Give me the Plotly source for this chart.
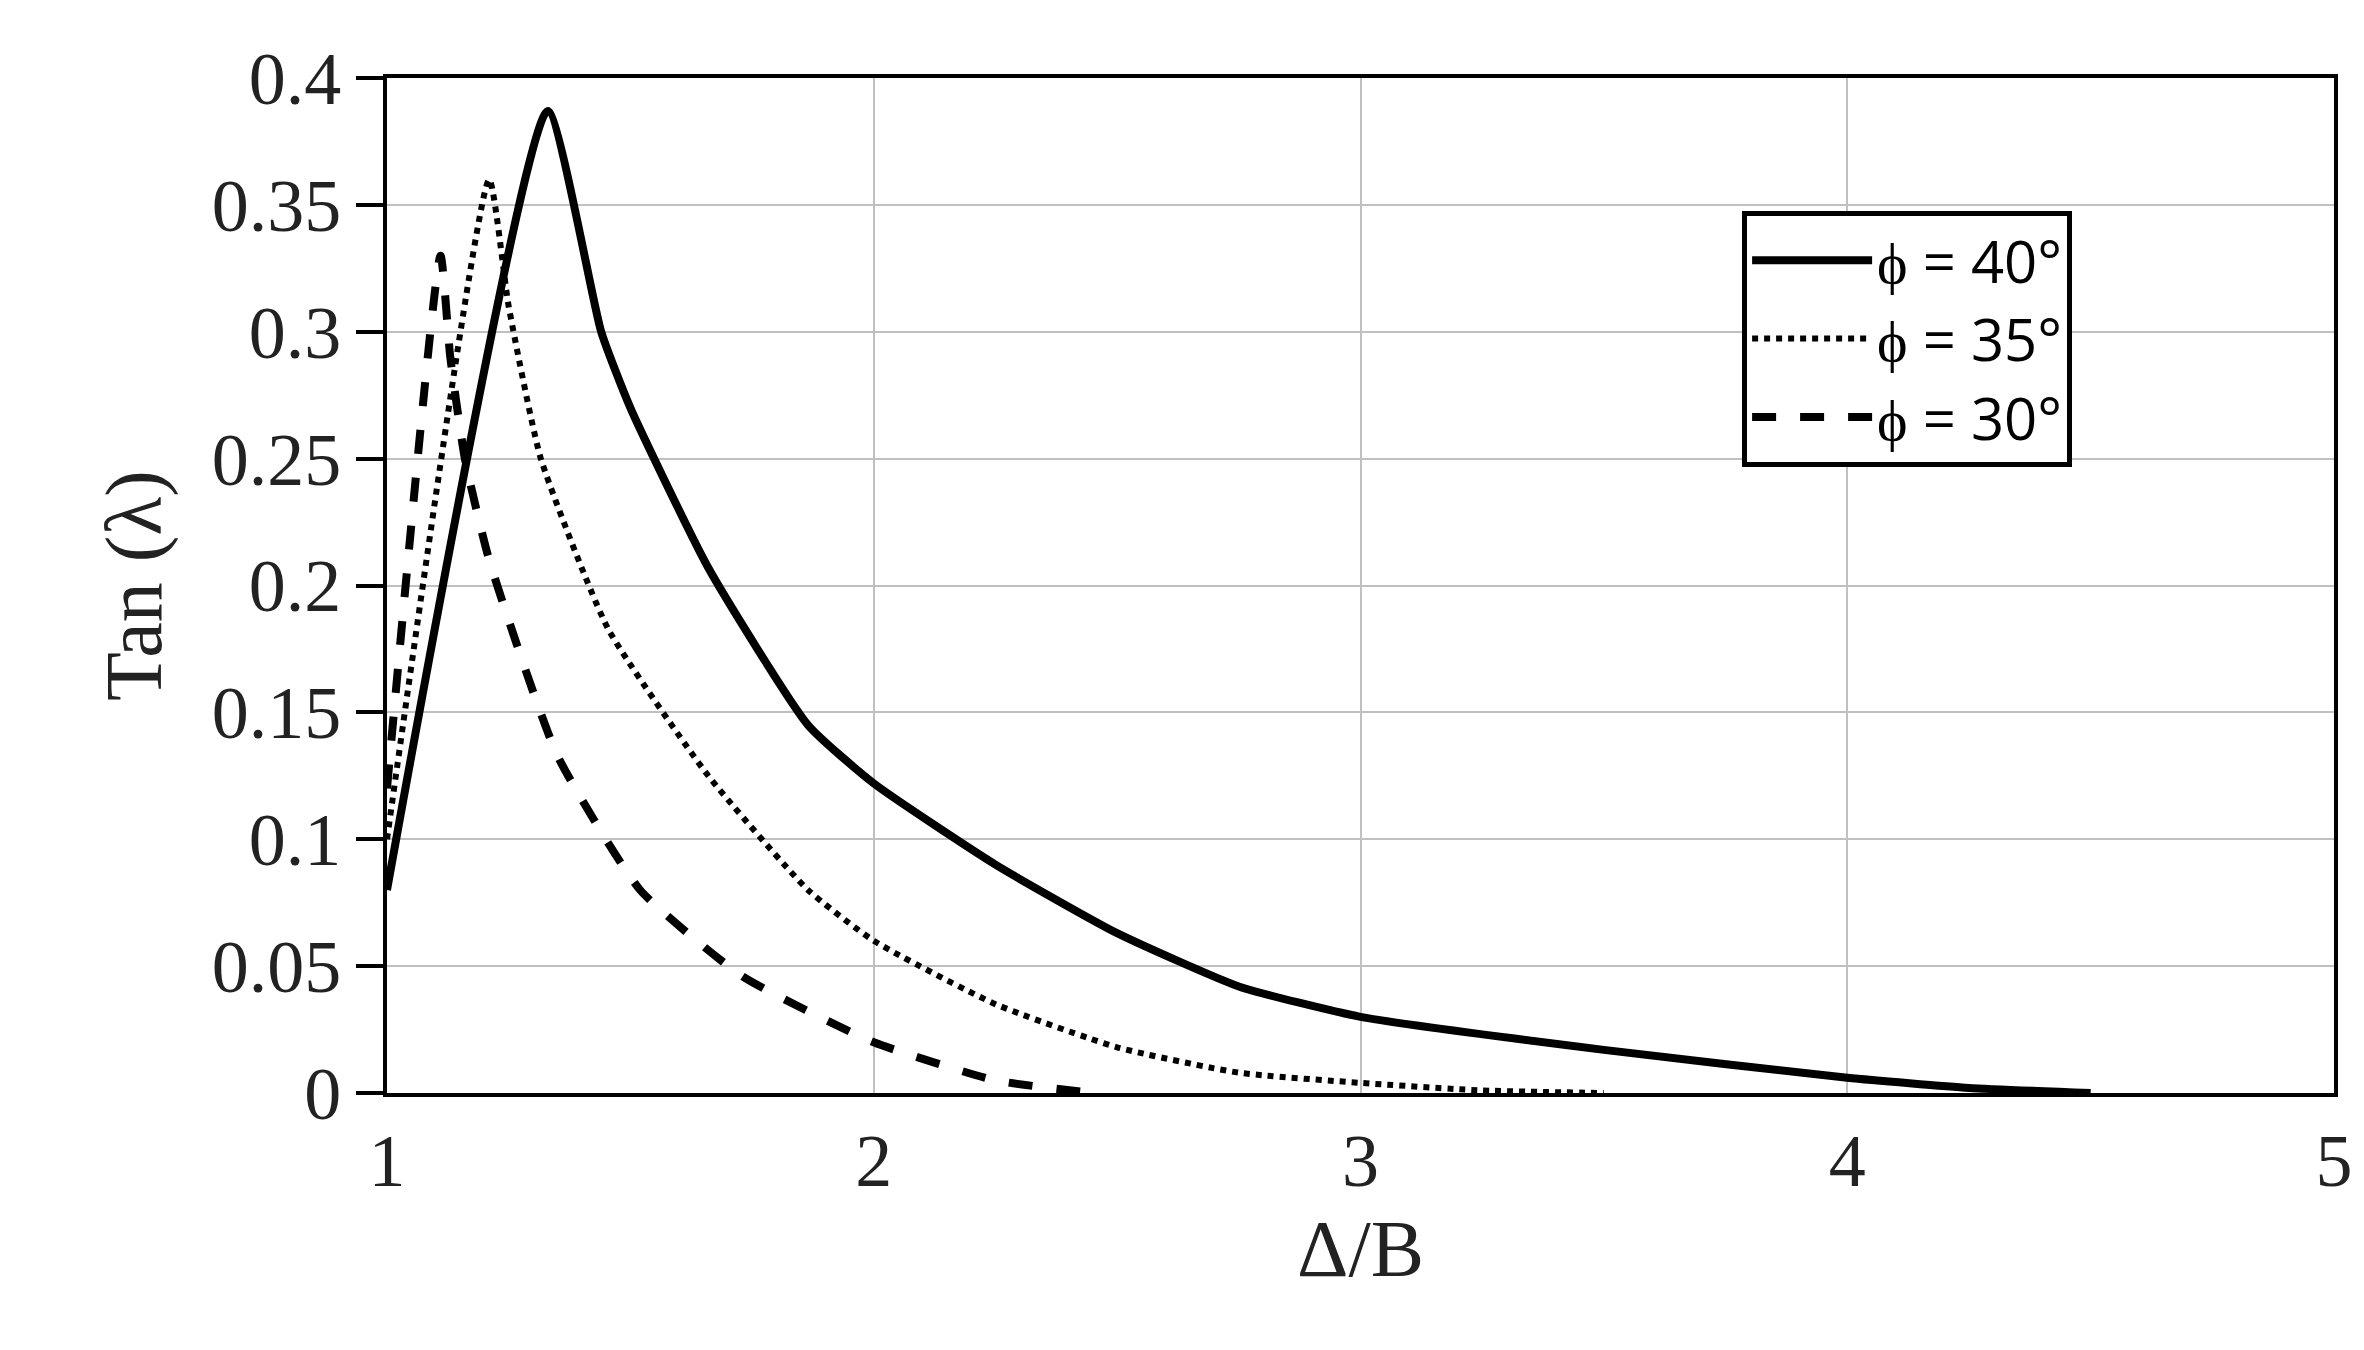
import plotly.graph_objects as go

x40 = [1.0, 1.33, 1.44, 1.5, 1.66, 1.865, 2.0, 2.25, 2.5, 2.75, 3.0, 3.5, 4.0, 4.25, 4.5]
y40 = [0.08, 0.387, 0.30, 0.27, 0.207, 0.145, 0.122, 0.09, 0.063, 0.042, 0.03, 0.017, 0.006, 0.002, 0.0]
x35 = [1.0, 1.21, 1.25, 1.316, 1.454, 1.66, 1.865, 2.0, 2.25, 2.5, 2.75, 3.0, 3.25, 3.5]
y35 = [0.1, 0.36, 0.31, 0.25, 0.183, 0.125, 0.08, 0.06, 0.035, 0.018, 0.008, 0.004, 0.001, 0.0]
x30 = [1.0, 1.11, 1.13, 1.16, 1.21, 1.35, 1.52, 1.73, 2.0, 2.25, 2.45]
y30 = [0.12, 0.33, 0.29, 0.25, 0.21, 0.133, 0.08, 0.046, 0.02, 0.005, 0.0]
names = ["ϕ = 40°", "ϕ = 35°", "ϕ = 30°"]

fig = go.Figure()
fig.add_trace(go.Scatter(x=x40, y=y40, name=names[0], mode="lines", line=dict(color="black", width=8, shape="spline", smoothing=0.5)))
fig.add_trace(go.Scatter(x=x35, y=y35, name=names[1], mode="lines", line=dict(color="black", width=6, dash="dot", shape="spline", smoothing=0.5)))
fig.add_trace(go.Scatter(x=x30, y=y30, name=names[2], mode="lines", line=dict(color="black", width=8, dash="dash", shape="spline", smoothing=0.5)))

axfont = dict(family="Liberation Serif", size=74, color="#222")
titlefont = dict(family="Liberation Serif", size=80, color="#222")
fig.update_layout(
    width=2364, height=1350, plot_bgcolor="white", paper_bgcolor="white",
    margin=dict(l=379, r=38, t=70, b=265),
    legend=dict(x=0.696, y=0.869, xanchor="left", yanchor="top", bordercolor="black", borderwidth=5,
                bgcolor="white", font=dict(family="Open Sans", size=58, color="black"),
                tracegroupgap=0, itemwidth=120),
    xaxis=dict(range=[1, 5], tickvals=[1, 2, 3, 4, 5], showgrid=True, gridcolor="#c0c0c0", gridwidth=2,
               showline=True, linecolor="black", linewidth=4, mirror=True, ticks="", zeroline=False,
               tickfont=axfont, title=dict(text="Δ/B", font=titlefont, standoff=20)),
    yaxis=dict(range=[0, 0.4], dtick=0.05, showgrid=True, gridcolor="#c0c0c0", gridwidth=2,
               showline=True, linecolor="black", linewidth=4, mirror=True, ticks="outside", ticklen=27,
               tickwidth=4, tickcolor="black", zeroline=False, tickformat="~g",
               tickfont=axfont, title=dict(text="Tan (λ)", font=titlefont, standoff=25)),
)
fig.write_html("out.html")
